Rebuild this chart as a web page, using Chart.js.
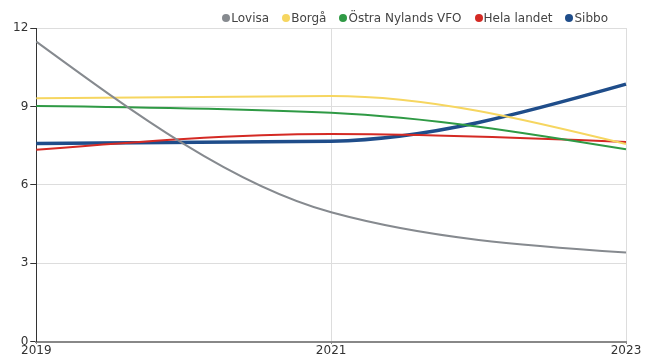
<!DOCTYPE html>
<html>
<head>
<meta charset="utf-8">
<script src="https://cdn.jsdelivr.net/npm/chart.js@4"></script>
<style>
  html, body { margin: 0; padding: 0; background: #fff; }
  #wrap { position: relative; width: 655px; height: 358px; }
  #legend { position: absolute; top: 10px; right: 47px; display: flex; gap: 13px;
            font: 12px 'DejaVu Sans'; line-height: 16px; color: #444; }
  #legend span { display: flex; align-items: center; white-space: nowrap; }
  #legend i { display: inline-block; width: 8px; height: 8px; border-radius: 50%; margin-right: 1px; }
</style>
</head>
<body>
<div id="wrap"><div id="legend"></div><canvas id="chart"></canvas></div>
<script>
// data
const years = ['2019', '2021', '2023'];
const lovisa = [11.48, 4.95, 3.41];
const borga = [9.31, 9.4, 7.56];
const ostraNyland = [9.02, 8.76, 7.36];
const helaLandet = [7.34, 7.94, 7.64];
const sibbo = [7.58, 7.67, 9.85];
const yTicks = [0, 3, 6, 9, 12];

Chart.defaults.font.family = 'DejaVu Sans';
Chart.defaults.font.size = 12;
Chart.defaults.color = '#333';

function line(label, data, color, width) {
    return {
        label, data,
        borderColor: color, backgroundColor: color,
        borderWidth: width, pointRadius: 0,
        cubicInterpolationMode: 'monotone'
    };
}

// monotoneX tangents (steeper ends than chart.js' own monotone)
const sign = v => v < 0 ? -1 : 1;
const monotoneX = {
    id: 'monotoneX',
    beforeDatasetDraw(chart, args) {
        const meta = args.meta;
        meta.dataset.updateControlPoints(chart.chartArea, 'x');
        const p = meta.data, n = p.length;
        if (n < 3) return;
        const s = [], t = [];
        for (let i = 0; i < n - 1; i++) s.push((p[i + 1].y - p[i].y) / (p[i + 1].x - p[i].x));
        for (let i = 1; i < n - 1; i++) {
            const h0 = p[i].x - p[i - 1].x, h1 = p[i + 1].x - p[i].x;
            const m = (s[i - 1] * h1 + s[i] * h0) / (h0 + h1);
            t[i] = (sign(s[i - 1]) + sign(s[i])) * Math.min(Math.abs(s[i - 1]), Math.abs(s[i]), 0.5 * Math.abs(m)) || 0;
        }
        t[0] = (3 * s[0] - t[1]) / 2;
        t[n - 1] = (3 * s[n - 2] - t[n - 2]) / 2;
        for (let i = 0; i < n; i++) {
            if (i > 0) {
                const dx = (p[i].x - p[i - 1].x) / 3;
                p[i].cp1x = p[i].x - dx; p[i].cp1y = p[i].y - dx * t[i];
            }
            if (i < n - 1) {
                const dx = (p[i + 1].x - p[i].x) / 3;
                p[i].cp2x = p[i].x + dx; p[i].cp2y = p[i].y + dx * t[i];
            }
        }
    }
};

const chart = new Chart(document.getElementById('chart'), {
    type: 'line',
    data: {
        labels: years,
        datasets: [
            line('Lovisa', lovisa, '#868a8f', 2),
            line('Borgå', borga, '#f6d660', 2),
            line('Östra Nylands VFO', ostraNyland, '#2f9a45', 2),
            line('Hela landet', helaLandet, '#d42a24', 2),
            line('Sibbo', sibbo, '#1f4d8a', 3.5)
        ]
    },
    plugins: [monotoneX],
    options: {
        responsive: true,
        maintainAspectRatio: false,
        animation: false,
        events: [],
        layout: { padding: { left: 11, right: 29, top: 28, bottom: 0 } },
        plugins: {
            tooltip: { enabled: false },
            legend: { display: false }
        },
        scales: {
            x: {
                grid: { color: '#ddd', tickLength: 2, tickColor: '#333' },
                border: { color: '#888', width: 2 },
                ticks: { padding: 0, maxRotation: 0 }
            },
            y: {
                min: 0, max: 12,
                afterBuildTicks: axis => { axis.ticks = yTicks.map(v => ({ value: v })); },
                grid: { color: '#ddd', tickLength: 6, tickColor: '#333' },
                border: { color: '#333', width: 1 },
                ticks: { padding: 2 }
            }
        }
    }
});

// legend
const legend = document.getElementById('legend');
chart.data.datasets.forEach(d => {
    const item = document.createElement('span');
    const dot = document.createElement('i');
    dot.style.background = d.borderColor;
    item.appendChild(dot);
    item.appendChild(document.createTextNode(d.label));
    legend.appendChild(item);
});
</script>
</body>
</html>
